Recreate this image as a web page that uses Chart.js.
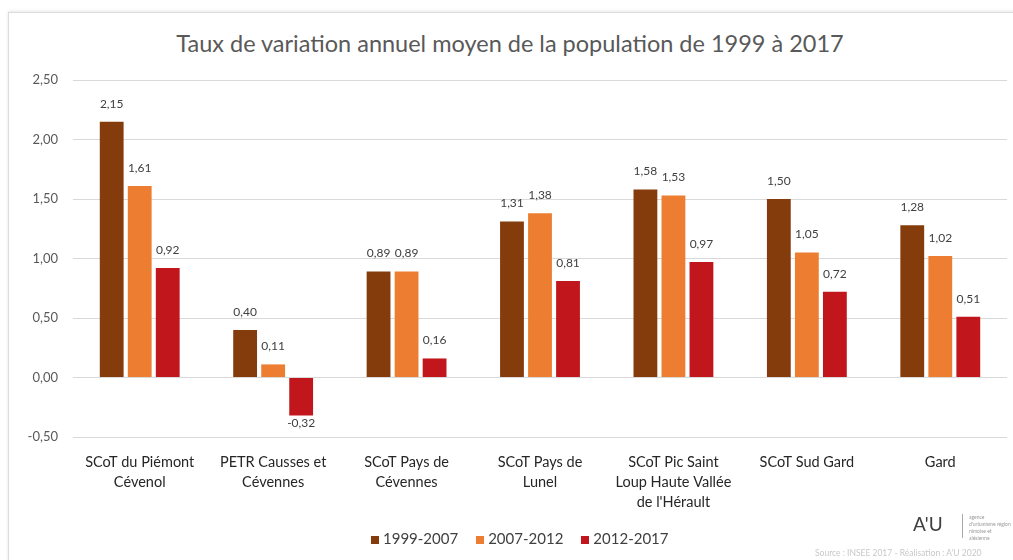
<!DOCTYPE html>
<html>
<head>
<meta charset="utf-8">
<script src="https://cdn.jsdelivr.net/npm/chart.js@4"></script>
<style>
    body { margin: 0; background: #fff; font-family: Lato, "Open Sans", sans-serif; }
    #wrap { position: relative; width: 1013px; height: 560px; overflow: hidden; }
    #frame { position: absolute; left: 8px; top: 12px; width: 1100px; height: 700px; border: 1px solid #dcdcdc; box-shadow: 0 -1px 3px #e8e8e8; }
    #title { position: absolute; left: 0; width: 1020px; top: 29px; text-align: center; font-size: 23.5px; color: #595959; }
    #legend { position: absolute; top: 529px; left: 371px; font-size: 15px; color: #404040; white-space: nowrap; }
    #legend span.item { margin-right: 18px; }
    #legend span.box { display: inline-block; width: 8px; height: 8px; margin-right: 4px; }
    #logo { position: absolute; left: 913px; top: 512px; font-size: 19px; color: #404040; }
    #logoText { position: absolute; left: 962px; top: 514px; font-size: 5px; color: #999; line-height: 7px; border-left: 1px solid #aaa; padding-left: 6px; height: 24px; }
    #source { position: absolute; left: 815px; top: 548px; font-size: 8.5px; color: #c8c8c8; white-space: nowrap; }
    canvas { position: absolute; left: 0; top: 0; }
</style>
</head>
<body>
<div id="wrap">
    <div id="frame"></div>
    <div id="title">Taux de variation annuel moyen de la population de 1999 à 2017</div>
    <canvas id="popChart" width="1013" height="560"></canvas>
    <div id="legend"></div>
    <div id="logo">A'U</div>
    <div id="logoText">agence<br>d'urbanisme région<br>nîmoise et alésienne</div>
    <div id="source">Source : INSEE 2017 - Réalisation : A'U 2020</div>
</div>
<script>
const territories = [
    ["SCoT du Piémont", "Cévenol"],
    ["PETR Causses et", "Cévennes"],
    ["SCoT Pays de", "Cévennes"],
    ["SCoT Pays de", "Lunel"],
    ["SCoT Pic Saint", "Loup Haute Vallée", "de l'Hérault"],
    ["SCoT Sud Gard"],
    ["Gard"]
];
const periods = ["1999-2007", "2007-2012", "2012-2017"];
const rate1999_2007 = [2.15, 0.40, 0.89, 1.31, 1.58, 1.50, 1.28];
const rate2007_2012 = [1.61, 0.11, 0.89, 1.38, 1.53, 1.05, 1.02];
const rate2012_2017 = [0.92, -0.32, 0.16, 0.81, 0.97, 0.72, 0.51];
const yTicks = [-0.5, 0, 0.5, 1, 1.5, 2, 2.5];
const colors = ['#843C0C', '#ED7D31', '#C0161C'];

function frNum(v) {
    return v.toFixed(2).replace('.', ',');
}

// draws the value above (or below) each bar
const valueLabels = {
    id: 'valueLabels',
    afterDatasetsDraw(chart) {
        const ctx = chart.ctx;
        ctx.save();
        ctx.font = '12px Lato, "Open Sans", sans-serif';
        ctx.fillStyle = '#404040';
        ctx.textAlign = 'center';
        chart.data.datasets.forEach((ds, i) => {
            chart.getDatasetMeta(i).data.forEach((bar, j) => {
                const v = ds.data[j];
                if (v >= 0) {
                    ctx.textBaseline = 'bottom';
                    ctx.fillText(frNum(v), bar.x, bar.y - 12);
                } else {
                    ctx.textBaseline = 'top';
                    ctx.fillText(frNum(v), bar.x, bar.y + 2);
                }
            });
        });
        ctx.restore();
    }
};

const datasets = [rate1999_2007, rate2007_2012, rate2012_2017].map((d, i) => ({
    label: periods[i],
    data: d,
    backgroundColor: colors[i],
    categoryPercentage: 0.63,
    barPercentage: 0.85
}));

new Chart(document.getElementById('popChart'), {
    type: 'bar',
    data: { labels: territories, datasets: datasets },
    options: {
        responsive: false,
        animation: false,
        layout: { padding: { left: 8, right: 6, top: 80, bottom: 43 } },
        plugins: {
            legend: { display: false },
            tooltip: { enabled: false }
        },
        scales: {
            x: {
                grid: { display: false },
                border: { display: false },
                ticks: {
                    color: '#262626',
                    padding: 8,
                    maxRotation: 0,
                    autoSkip: false,
                    font: { size: 14.5, family: 'Lato, "Open Sans", sans-serif', lineHeight: 1.35 }
                },
                afterFit: s => { s.height = 80; }
            },
            y: {
                min: -0.5,
                max: 2.5,
                afterBuildTicks: s => { s.ticks = yTicks.map(v => ({ value: v })); },
                grid: { color: '#d9d9d9', drawTicks: false },
                border: { display: false },
                ticks: {
                    color: '#595959',
                    padding: 15,
                    font: { size: 13, family: 'Lato, "Open Sans", sans-serif' },
                    callback: v => frNum(v)
                },
                afterFit: s => { s.width = 65; }
            }
        }
    },
    plugins: [valueLabels]
});

const legend = document.getElementById('legend');
periods.forEach((p, i) => {
    const item = document.createElement('span');
    item.className = 'item';
    item.innerHTML = '<span class="box" style="background:' + colors[i] + '"></span>' + p;
    legend.appendChild(item);
});
</script>
</body>
</html>
